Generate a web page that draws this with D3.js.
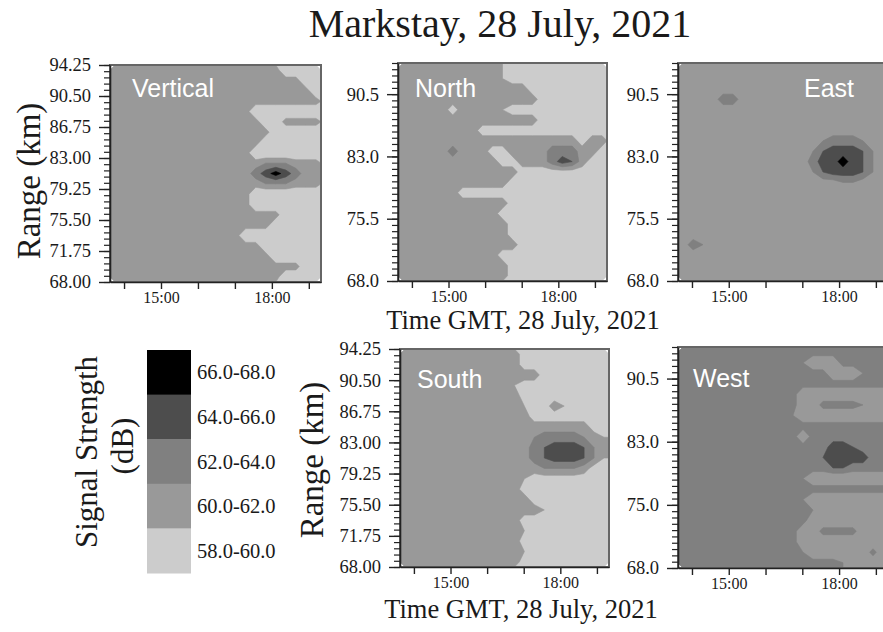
<!DOCTYPE html>
<html>
<head>
<meta charset="utf-8">
<script src="https://cdn.jsdelivr.net/npm/d3@7"></script>
<style>
  body { margin: 0; background: #fff; }
  svg { display: block; }
  text { font-family: "Liberation Serif", "Times New Roman", serif; fill: #1a1a1a; }
  .panel-name { font-family: "Liberation Sans", Arial, sans-serif; fill: #fff; }
</style>
</head>
<body>
<div id="chart"></div>
<script>
// signal strength bands (dB)
var bandThresholds = [58, 60, 62, 64, 66];
var bandColors = ["#cccccc", "#999999", "#808080", "#4d4d4d", "#000000"];
var bandLabels = ["58.0-60.0", "60.0-62.0", "62.0-64.0", "64.0-66.0", "66.0-68.0"];

// time axis in hours GMT
var timeDomain = [13.62, 19.33];
var hourTicks = [14, 15, 16, 17, 18, 19];
var hourLabels = ["", "15:00", "", "", "18:00", ""];

// range axis in km
var rangeDomain = [68, 94.25];
var rangeTicksFine = [68, 71.75, 75.5, 79.25, 83, 86.75, 90.5, 94.25];
var rangeLabelsFine = ["68.00", "71.75", "75.50", "79.25", "83.00", "86.75", "90.50", "94.25"];
var rangeTicksCoarse = [68, 75.5, 83, 90.5];
var rangeLabelsCoarse = ["68.0", "75.5", "83.0", "90.5"];
var rangeLabelsWest = ["68.0", "75.0", "83.0", "90.5"];
var rangeMinorStep = 0.75;

// gridded signal: rows go from 94.25 km down to 68 km,
// columns from early to late, one digit per cell, dB = 58 + digit
var verticalGrid = [
  "333333333333333330000",
  "333333333333333333300",
  "333333333333333333330",
  "333333333333333333333",
  "333333333333330000000",
  "333333333333333003333",
  "333333333333333300000",
  "333333333333333000000",
  "333333333333330000000",
  "333333333333333444333",
  "333333333333335797533",
  "333333333333333444333",
  "333333333333330000000",
  "333333333333330000000",
  "333333333333333330000",
  "333333333333333300000",
  "333333333333300000000",
  "333333333333333000000",
  "333333333333333300000",
  "333333333333333333300",
  "333333333333333330000"
];

var northGrid = [
  "333333333321111111111",
  "333333333321111111111",
  "333333333333311111111",
  "333333333333331111111",
  "333331333321111111111",
  "333333333333331111111",
  "333333331111111111111",
  "333333333333333333133",
  "333335333113333555331",
  "333333333311333576311",
  "333333333333111111111",
  "333333333331111111111",
  "333333111111111111111",
  "333333333331111111111",
  "333333333311111111111",
  "333333333331111111111",
  "333333333331111111111",
  "333333333333111111111",
  "333333333311111111111",
  "333333333331111111111",
  "333333333331111111111"
];

var eastGrid = [
  "333333333333333333333",
  "333333333333333333333",
  "333333333333333333333",
  "333355333333333333333",
  "333333333333333333333",
  "333333333333333333333",
  "333333333333333333333",
  "333333333333334555433",
  "333333333333346777643",
  "333333333333357797643",
  "333333333333346777643",
  "333333333333333344333",
  "333333333333333333333",
  "333333333333333333333",
  "333333333333333333333",
  "333333333333333333333",
  "333333333333333333333",
  "354333333333333333333",
  "333333333333333333333",
  "333333333333333333333",
  "333333333333333333333"
];

var southGrid = [
  "333333333333111111111",
  "333333333333111111111",
  "333333333333331111111",
  "333333333332111111111",
  "333333333333111111111",
  "333333333333211321111",
  "333333333333311111111",
  "333333333333333333311",
  "333333333333345555432",
  "333333333333356777643",
  "333333333333356777642",
  "333333333333334444311",
  "333333333333211111111",
  "333333333333111111111",
  "333333333333311111111",
  "333333333333332111111",
  "333333333333111111111",
  "333333333333211111111",
  "333333333333111111111",
  "333333333333211111111",
  "333333333333111111111"
];

var westGrid = [
  "555555555555555555555",
  "555555555555422255555",
  "555555555555555222455",
  "555555555555555555555",
  "555555555555222222222",
  "555555555555225555422",
  "555555555554222222222",
  "555555555555555555555",
  "555555555555255555555",
  "555555555555555776555",
  "555555555555556777755",
  "555555555555555665555",
  "555555555555422222222",
  "555555555555555555555",
  "555555555555422222222",
  "555555555555542222222",
  "555555555555522222222",
  "555555555555225555222",
  "555555555555222222222",
  "555555555555422222252",
  "555555555555555542222"
];

var width = 883, height = 632;

var panels = [
  { name: "Vertical", grid: verticalGrid, x: 110, y: 65, w: 211, h: 217, ticks: rangeTicksFine, labels: rangeLabelsFine, nameX: 132, nameY: 97, rangeTitle: [40, 181] },
  { name: "North", grid: northGrid, x: 398, y: 63, w: 209, h: 218, ticks: rangeTicksCoarse, labels: rangeLabelsCoarse, nameX: 415, nameY: 97 },
  { name: "East", grid: eastGrid, x: 678, y: 63, w: 210, h: 218, ticks: rangeTicksCoarse, labels: rangeLabelsCoarse, nameX: 804, nameY: 97 },
  { name: "South", grid: southGrid, x: 400, y: 349, w: 209, h: 218, ticks: rangeTicksFine, labels: rangeLabelsFine, nameX: 417, nameY: 388, rangeTitle: [323, 460] },
  { name: "West", grid: westGrid, x: 678, y: 347, w: 210, h: 221, ticks: rangeTicksCoarse, labels: rangeLabelsWest, nameX: 693, nameY: 387 }
];

var svg = d3.select("#chart").append("svg")
    .attr("width", width)
    .attr("height", height);

svg.append("rect").attr("width", width).attr("height", height).attr("fill", "#fff");

svg.append("text")
    .attr("x", 500)
    .attr("y", 37)
    .attr("text-anchor", "middle")
    .style("font-size", "40px")
    .text("Markstay, 28 July, 2021");

function decode(rows) {
  var values = [];
  rows.forEach(function (row) {
    row.split("").forEach(function (ch) {
      values.push(58 + (+ch));
    });
  });
  return values;
}

function drawPanel(p, i) {
  var nCols = p.grid[0].length, nRows = p.grid.length;

  var x = d3.scaleLinear().domain(timeDomain).range([p.x, p.x + p.w]);
  var y = d3.scaleLinear().domain(rangeDomain).range([p.y + p.h, p.y]);

  // grid cell space -> hours / km
  var gx = d3.scaleLinear().domain([0, nCols]).range(timeDomain);
  var gy = d3.scaleLinear().domain([0, nRows]).range([rangeDomain[1], rangeDomain[0]]);

  var projection = d3.geoTransform({
    point: function (px, py) {
      this.stream.point(x(gx(px)), y(gy(py)));
    }
  });
  var path = d3.geoPath(projection);

  var contours = d3.contours()
      .size([nCols, nRows])
      .thresholds(bandThresholds)(decode(p.grid));

  svg.append("clipPath").attr("id", "clip" + i)
    .append("rect")
      .attr("x", p.x).attr("y", p.y)
      .attr("width", p.w).attr("height", p.h);

  var g = svg.append("g").attr("clip-path", "url(#clip" + i + ")");

  g.selectAll("path")
      .data(contours)
    .enter().append("path")
      .attr("d", path)
      .attr("fill", function (d) { return bandColors[bandThresholds.indexOf(d.value)]; })
      .attr("stroke", function (d) { return bandColors[bandThresholds.indexOf(d.value)]; })
      .attr("stroke-width", 0.6);

  svg.append("rect")
      .attr("x", p.x).attr("y", p.y)
      .attr("width", p.w).attr("height", p.h)
      .attr("fill", "none")
      .attr("stroke", "#666")
      .attr("stroke-width", 2);

  svg.append("text")
      .attr("class", "panel-name")
      .attr("x", p.nameX)
      .attr("y", p.nameY)
      .style("font-size", "25px")
      .text(p.name);

  // minor range ticks
  var minor = svg.append("g")
      .attr("transform", "translate(" + p.x + ",0)")
      .call(d3.axisLeft(y)
        .tickValues(d3.range(rangeDomain[0], rangeDomain[1] + 0.01, rangeMinorStep))
        .tickSize(6)
        .tickSizeOuter(0)
        .tickFormat(""));
  minor.select(".domain").remove();
  minor.selectAll("line").attr("stroke", "#222").attr("stroke-width", 1.2);

  var yAxis = svg.append("g")
      .attr("transform", "translate(" + p.x + ",0)")
      .call(d3.axisLeft(y)
        .tickValues(p.ticks)
        .tickFormat(function (d, k) { return p.labels[k]; })
        .tickSize(11)
        .tickSizeOuter(0)
        .tickPadding(8));
  yAxis.attr("font-family", null).attr("font-size", null);
  yAxis.selectAll("text").style("font-size", "18.5px").attr("fill", "#1a1a1a");
  yAxis.selectAll("line").attr("stroke", "#222").attr("stroke-width", 1.4);
  yAxis.select(".domain").attr("stroke", "#222").attr("stroke-width", 1.6);

  var xAxis = svg.append("g")
      .attr("transform", "translate(0," + (p.y + p.h) + ")")
      .call(d3.axisBottom(x)
        .tickValues(hourTicks)
        .tickFormat(function (d, k) { return hourLabels[k]; })
        .tickSize(7)
        .tickSizeOuter(0)
        .tickPadding(3));
  xAxis.attr("font-family", null).attr("font-size", null);
  xAxis.selectAll("text").style("font-size", "16px").attr("fill", "#1a1a1a");
  xAxis.selectAll("line").attr("stroke", "#222").attr("stroke-width", 1.4);
  xAxis.select(".domain").attr("stroke", "#222").attr("stroke-width", 1.6);

  if (p.rangeTitle) {
    svg.append("text")
        .attr("transform", "translate(" + p.rangeTitle[0] + "," + p.rangeTitle[1] + ") rotate(-90)")
        .attr("text-anchor", "middle")
        .style("font-size", "33px")
        .text("Range (km)");
  }
}

panels.forEach(drawPanel);

// time axis titles
[[523, 329], [521, 618]].forEach(function (pos) {
  svg.append("text")
      .attr("x", pos[0])
      .attr("y", pos[1])
      .attr("text-anchor", "middle")
      .style("font-size", "26.5px")
      .text("Time GMT, 28 July, 2021");
});

// legend
var legendTop = 350, legendBox = 44.6;
var legend = svg.append("g");
var order = d3.range(bandLabels.length).reverse();

legend.selectAll("rect")
    .data(order)
  .enter().append("rect")
    .attr("x", 147)
    .attr("y", function (d, k) { return legendTop + k * legendBox; })
    .attr("width", 44)
    .attr("height", legendBox + 0.5)
    .attr("fill", function (d) { return bandColors[d]; });

legend.selectAll("text")
    .data(order)
  .enter().append("text")
    .attr("x", 197)
    .attr("y", function (d, k) { return legendTop + k * legendBox + legendBox / 2; })
    .attr("dy", "0.35em")
    .style("font-size", "20.5px")
    .text(function (d) { return bandLabels[d]; });

svg.append("text")
    .attr("transform", "translate(97,452) rotate(-90)")
    .attr("text-anchor", "middle")
    .style("font-size", "31px")
    .text("Signal Strength");

svg.append("text")
    .attr("transform", "translate(133,446) rotate(-90)")
    .attr("text-anchor", "middle")
    .style("font-size", "31px")
    .text("(dB)");
</script>
</body>
</html>
